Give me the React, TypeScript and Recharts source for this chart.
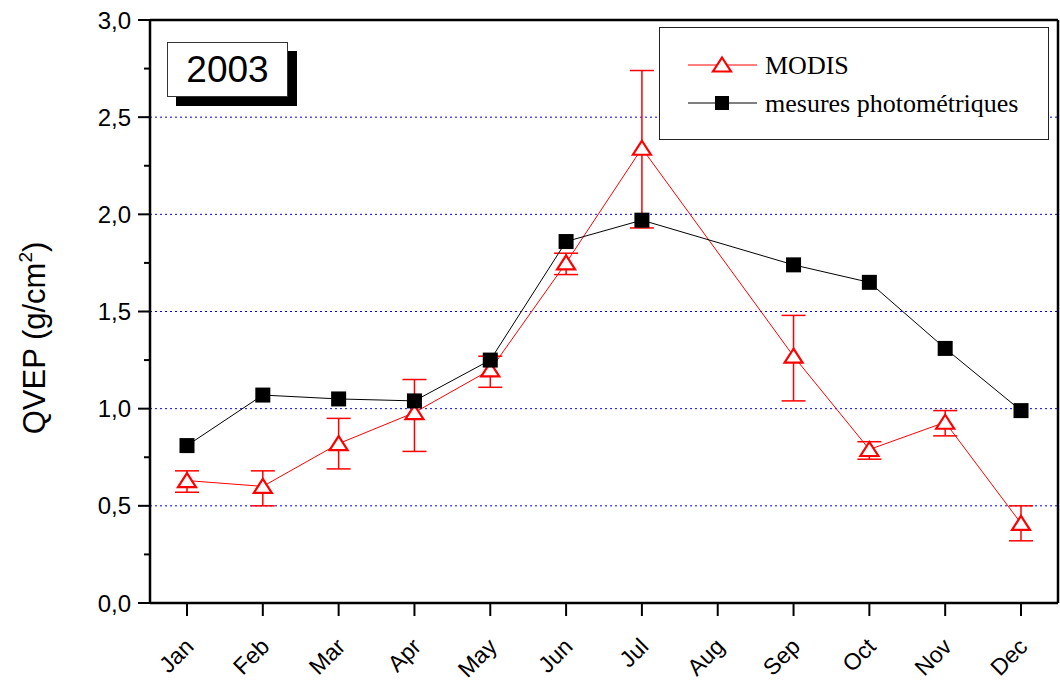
import React from 'react';
import {
    LineChart, Line, XAxis, YAxis, ErrorBar, Legend, ReferenceLine
} from 'recharts';

const months = ['Jan', 'Feb', 'Mar', 'Apr', 'May', 'Jun', 'Jul', 'Aug', 'Sep', 'Oct', 'Nov', 'Dec'];

// MODIS (red, with error bars); no value in August
const modis = [0.63, 0.60, 0.82, 0.98, 1.20, 1.75, 2.34, null, 1.27, 0.79, 0.93, 0.41];
const modisLow = [0.57, 0.50, 0.69, 0.78, 1.11, 1.69, 1.93, null, 1.04, 0.74, 0.86, 0.32];
const modisHigh = [0.68, 0.68, 0.95, 1.15, 1.27, 1.80, 2.74, null, 1.48, 0.83, 0.99, 0.50];

// mesures photométriques (black squares)
const photo = [0.81, 1.07, 1.05, 1.04, 1.25, 1.86, 1.97, null, 1.74, 1.65, 1.31, 0.99];

const yTicks = [0, 0.25, 0.5, 0.75, 1, 1.25, 1.5, 1.75, 2, 2.25, 2.5, 2.75, 3];
const gridTicks = [0.5, 1, 1.5, 2, 2.5];

const data = months.map((m, i) => ({
    month: m,
    modis: modis[i],
    modisErr: modis[i] == null ? null : [modis[i]! - modisLow[i]!, modisHigh[i]! - modis[i]!],
    photo: photo[i],
}));

const SANS = '"Liberation Sans", Arial, sans-serif';
const SERIF = '"Liberation Serif", "Times New Roman", serif';

const isMajor = (v: number) => Math.abs(v * 2 - Math.round(v * 2)) < 1e-6;

const LeftTick = (props: any) => {
    const { x, y, payload } = props;
    const v = payload.value;
    const major = isMajor(v);
    return (
        <g>
            <line x1={x - (major ? 12 : 6)} x2={x} y1={y} y2={y} stroke="#000" strokeWidth={2} />
            {major && (
                <text x={x - 19} y={y + 8.5} textAnchor="end" fontFamily={SANS} fontSize={24} fill="#000">
                    {v.toFixed(1).replace('.', ',')}
                </text>
            )}
        </g>
    );
};

const RightTick = (props: any) => {
    const { x, y, payload } = props;
    const major = isMajor(payload.value);
    return <line x1={x - (major ? 10 : 5)} x2={x} y1={y} y2={y} stroke="#000" strokeWidth={2} />;
};

const MonthTick = (props: any) => {
    const { x, y, payload } = props;
    const ax = x + 8;
    const ay = y + 45;
    return (
        <g>
            <line x1={x} x2={x} y1={y} y2={y + 13} stroke="#000" strokeWidth={2} />
            <text x={ax} y={ay} textAnchor="end" transform={`rotate(-45 ${ax} ${ay})`}
                fontFamily={SANS} fontSize={23} fill="#000">
                {payload.value}
            </text>
        </g>
    );
};

const Triangle = (props: any) => {
    const { cx, cy, index } = props;
    if (cx == null || cy == null || isNaN(cy)) return <g key={`t${index}`} />;
    return (
        <path key={`t${index}`} d={`M${cx},${cy - 7.5} L${cx + 9},${cy + 6.5} L${cx - 9},${cy + 6.5} Z`}
            fill="#fff" stroke="#ff0000" strokeWidth={2.2} strokeLinejoin="miter" />
    );
};

const Square = (props: any) => {
    const { cx, cy, index } = props;
    if (cx == null || cy == null || isNaN(cy)) return <g key={`s${index}`} />;
    return <rect key={`s${index}`} x={cx - 7.5} y={cy - 7.5} width={15} height={15} fill="#000" />;
};

const renderLegend = () => (
    <div style={{
        position: 'absolute', left: 0, top: 0, width: 388, height: 111,
        border: '1.5px solid #222', background: '#fff'
    }}>
        <svg width={388} height={111} style={{ display: 'block' }}>
            <line x1={28} x2={97} y1={37} y2={37} stroke="#ff0000" strokeWidth={1} />
            <path d="M62,29.5 L71,43.5 L53,43.5 Z" fill="#fff" stroke="#ff0000" strokeWidth={2.2} />
            <text x={105} y={46} fontFamily={SERIF} fontSize={26} fill="#000">MODIS</text>
            <line x1={28} x2={97} y1={75} y2={75} stroke="#000" strokeWidth={1} />
            <rect x={55} y={68} width={14} height={14} fill="#000" />
            <text x={105} y={84} fontFamily={SERIF} fontSize={26} fill="#000">mesures photométriques</text>
        </svg>
    </div>
);

const YLabel = () => (
    <text x={45} y={338} transform="rotate(-90 45 338)" textAnchor="middle"
        fontFamily={SANS} fontSize={31} fill="#000">
        QVEP (g/cm<tspan dy={-13} fontSize={19}>2</tspan><tspan dy={13}>)</tspan>
    </text>
);

export default function App() {
    return (
        <div style={{ position: 'absolute', left: 0, top: 0, width: 1060, height: 690, background: '#fff' }}>
            <LineChart width={1060} height={690} data={data}
                margin={{ top: 19, right: 1, bottom: 0, left: 0 }}>
                <XAxis dataKey="month" height={87} interval={0} padding={{ left: 37, right: 37 }}
                    tickSize={0} tickMargin={0} tickLine={false} tick={<MonthTick />}
                    axisLine={{ stroke: '#000', strokeWidth: 2.5 }} />
                <XAxis xAxisId="top" dataKey="month" orientation="top" height={1}
                    tick={false} tickLine={false} axisLine={{ stroke: '#000', strokeWidth: 2.5 }} />
                <YAxis width={150} domain={[0, 3]} ticks={yTicks} interval={0}
                    tickSize={0} tickMargin={0} tickLine={false} tick={<LeftTick />}
                    axisLine={{ stroke: '#000', strokeWidth: 2.5 }}
                    label={<YLabel />} />
                <YAxis yAxisId="right" orientation="right" width={1} domain={[0, 3]} ticks={yTicks}
                    interval={0} tickSize={0} tickMargin={0} tickLine={false} tick={<RightTick />}
                    axisLine={{ stroke: '#000', strokeWidth: 2.5 }} />
                {gridTicks.map((v) => (
                    <ReferenceLine key={v} y={v} stroke="#0000ff" strokeDasharray="2 3" strokeWidth={1} />
                ))}
                <Legend content={renderLegend}
                    wrapperStyle={{ position: 'absolute', left: 659, top: 27, width: 0, height: 0, overflow: 'visible' }} />
                <Line dataKey="modis" name="MODIS" stroke="#ff0000" strokeWidth={1} connectNulls
                    dot={<Triangle />} activeDot={false} isAnimationActive={false}>
                    <ErrorBar dataKey="modisErr" direction="y" width={12} stroke="#ff0000" strokeWidth={1.5} />
                </Line>
                <Line dataKey="photo" name="mesures photométriques" stroke="#000" strokeWidth={1} connectNulls
                    dot={<Square />} activeDot={false} isAnimationActive={false} />
            </LineChart>
            <div style={{
                position: 'absolute', left: 167, top: 42, width: 119, height: 53,
                border: '1px solid #333', background: '#fff', boxShadow: '9px 9px 0 #000',
                display: 'flex', alignItems: 'center', justifyContent: 'center',
                fontFamily: SANS, fontSize: 37, color: '#000'
            }}>
                2003
            </div>
        </div>
    );
}
